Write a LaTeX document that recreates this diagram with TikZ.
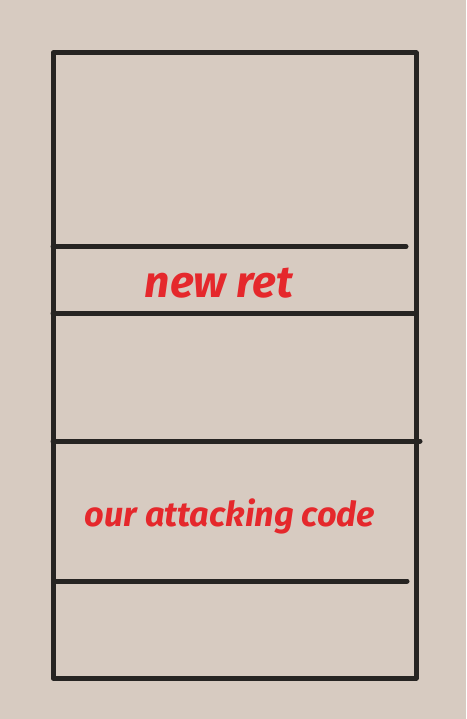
\documentclass[tikz,border=0pt]{standalone}
\usepackage{fontspec}
\setmainfont{Fira Sans}
\definecolor{bg}{HTML}{D7CBC1}
\definecolor{ink}{HTML}{262422}
\definecolor{pen}{HTML}{E5282C}
\begin{document}
\begin{tikzpicture}[x=1pt,y=-1pt,
  frame/.style={draw=ink,line width=5pt,line join=round},
  sep/.style={draw=ink,line width=5pt,line cap=round},
  label/.style={text=pen,font=\bfseries\itshape,inner sep=0pt,anchor=center}]
\fill[bg] (0,0) rectangle (466,719);
\useasboundingbox (0,0) rectangle (466,719);
\coordinate (tl) at (53,53);
\coordinate (br) at (416,678);
\draw[frame] (tl) rectangle (br);
\coordinate (a1) at (53,246.5); \coordinate (a2) at (406,246.5);
\coordinate (b1) at (53,313); \coordinate (b2) at (416,313);
\coordinate (c1) at (53,441); \coordinate (c2) at (420,441);
\coordinate (d1) at (55,581); \coordinate (d2) at (407,581);
\draw[sep] (a1) -- (a2);
\draw[sep] (b1) -- (b2);
\draw[sep] (c1) -- (c2);
\draw[sep] (d1) -- (d2);
\node[label] (newret) at (219,283) {\resizebox{148pt}{!}{new ret}};
\node[label] (code) at (230,516) {\resizebox{290pt}{!}{our attacking code}};
\end{tikzpicture}
\end{document}
